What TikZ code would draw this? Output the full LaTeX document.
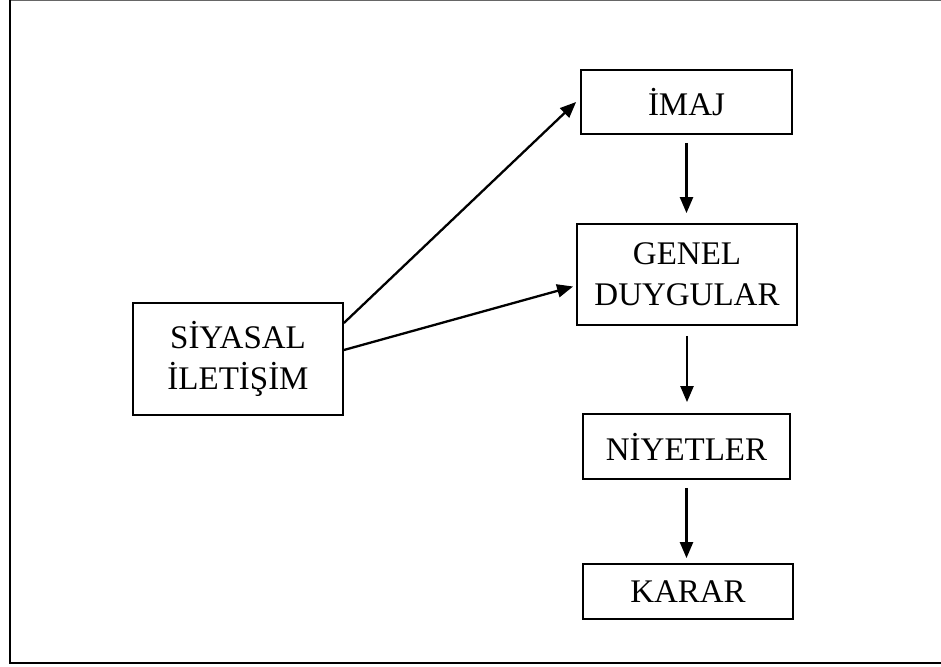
\documentclass[tikz,border=0pt]{standalone}
\usepackage{fontspec}
\setmainfont{Liberation Serif}
\usetikzlibrary{arrows.meta,calc}
\begin{document}
\begin{tikzpicture}[x=1pt,y=-1pt,
  box/.style={draw,line width=1.8pt,inner sep=0pt,align=center,font=\fontsize{33}{41}\selectfont},
  conn/.style={line width=2.3pt,-{Triangle[length=16pt,width=13pt]}}]
\useasboundingbox (0,0) rectangle (941,666);
\draw[line width=1pt,black!60] (10,0.5) -- (945,0.5);
\draw[line width=1.6pt] (10,0) -- (10,663) -- (945,663);
\node[box,minimum width=210pt,minimum height=112pt] (siy) at (238,359) {SİYASAL\\İLETİŞİM};
\node[box,minimum width=211pt,minimum height=64pt] (img) at (686.5,102) {İMAJ};
\node[box,minimum width=220pt,minimum height=101pt] (gen) at (687,274.5) {GENEL\\DUYGULAR};
\node[box,minimum width=207pt,minimum height=65pt] (niy) at (686.5,446.5) {NİYETLER};
\node[box,minimum width=210pt,minimum height=55pt] (kar) at (688,591.5) {KARAR};
\draw[conn] ([yshift=36pt]siy.east) -- ([xshift=-4pt]img.west);
\draw[conn] ([yshift=9pt]siy.east) -- ([xshift=-3pt,yshift=-12pt]gen.west);
\draw[conn,shorten <=8pt,shorten >=10pt] (img.south) -- (img.south |- gen.north);
\draw[conn,shorten <=10pt,shorten >=11pt] (gen.south) -- (gen.south |- niy.north);
\draw[conn,shorten <=8pt,shorten >=5pt] (niy.south) -- (niy.south |- kar.north);
\end{tikzpicture}
\end{document}
